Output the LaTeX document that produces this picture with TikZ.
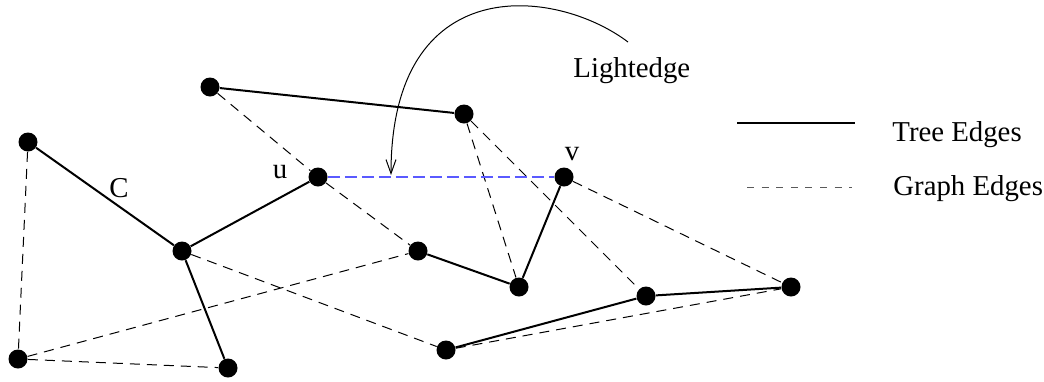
\documentclass[tikz,border=0pt]{standalone}
\usepackage{fontspec}
\setmainfont{Liberation Serif}
\usetikzlibrary{arrows.meta}
\definecolor{edgeblue}{RGB}{90,90,255}
\definecolor{legendgray}{RGB}{90,90,90}
\begin{document}
\begin{tikzpicture}[x=0.5pt,y=-0.5pt,line cap=butt,line join=miter,font=\fontsize{14.4}{17}\selectfont]
			\tikzset{dot/.style={circle,fill=black,inner sep=0pt,minimum size=9.5pt},
				treeedge/.style={line width=1pt},
				graphedge/.style={line width=0.5pt,dash pattern=on 5pt off 3.5pt},
				lightedge/.style={draw=edgeblue,line width=1pt,dash pattern=on 6pt off 2.5pt},
				lbl/.style={inner sep=0pt,anchor=base}
			}
			\useasboundingbox (0,0) rectangle (1044,381);
			% vertices
			\node[dot] (a) at (28,142) {};
			\node[dot] (b) at (210,87) {};
			\node[dot] (c) at (182,251) {};
			\node[dot] (u) at (318,177) {};
			\node[dot] (d) at (464,114) {};
			\node[dot] (v) at (564,177) {};
			\node[dot] (e) at (418,251) {};
			\node[dot] (f) at (519,287) {};
			\node[dot] (g) at (646,296) {};
			\node[dot] (h) at (791,287) {};
			\node[dot] (i) at (446,350) {};
			\node[dot] (j) at (18,359) {};
			\node[dot] (k) at (228,368) {};
			% tree edges
			\draw[treeedge] (b)--(d) (a)--(c) (c)--(u) (c)--(k) (e)--(f) (f)--(v) (i)--(g) (g)--(h);
			% graph edges
			\draw[graphedge] (a)--(j) (j)--(k) (j)--(e) (c)--(i) (b)--(u) (u)--(e)
			(d)--(f) (d)--(g) (v)--(h) (i)--(h);
			\draw[lightedge] (u)--(v);
			% labels
			\node[lbl] (clbl) at (119,197) {C};
			\node[lbl] (ulbl) at (280,178) {u};
			\node[lbl] (vlbl) at (572,160) {v};
			\node[lbl,anchor=base west] (light) at (573,77) {Lightedge};
			\coordinate (arcstart) at (628,42);
			\coordinate (arcend) at (391,175);
			\draw[line width=0.5pt,-{Straight Barb[length=7pt,width=5pt]}] (arcstart) .. controls (555,-13) and (391,-30) .. (arcend);
			% legend
			\coordinate (tree1) at (737,123);
			\coordinate (tree2) at (855,123);
			\coordinate (graph1) at (747,187);
			\coordinate (graph2) at (852,187);
			\draw[treeedge] (tree1)--(tree2);
			\draw[legendgray,line width=0.5pt,dash pattern=on 3.5pt off 3.8pt] (graph1)--(graph2);
			\node[lbl,anchor=base west] (treelbl) at (892,141) {Tree Edges};
			\node[lbl,anchor=base west] (graphlbl) at (893,195) {Graph Edges};
		\end{tikzpicture}
\end{document}
